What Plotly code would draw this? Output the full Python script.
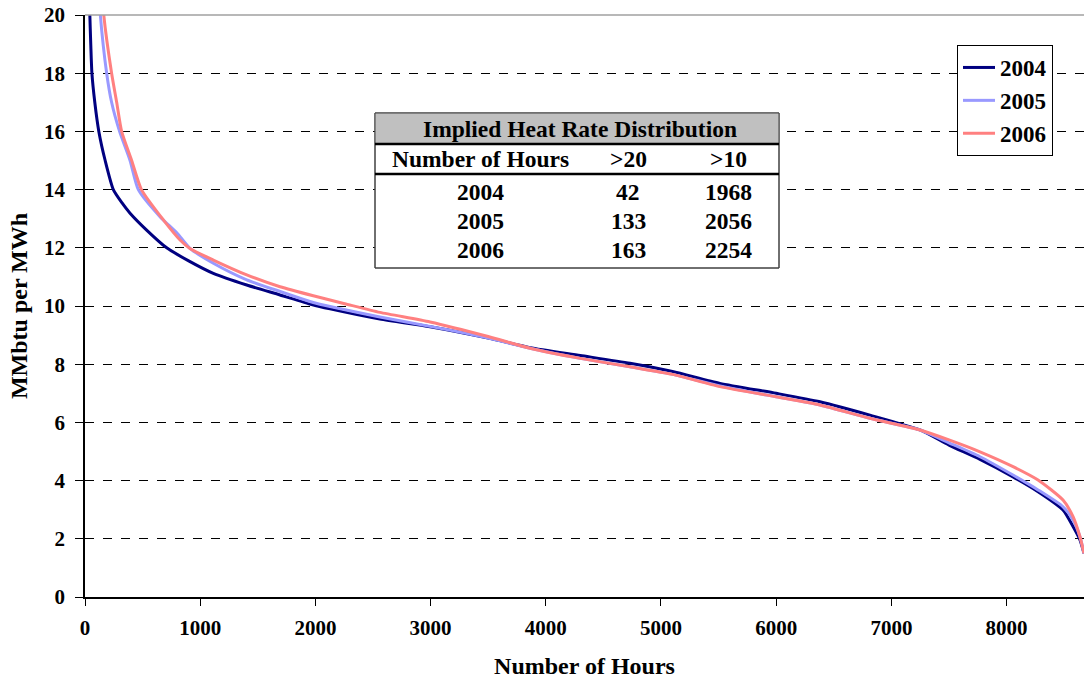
import plotly.graph_objects as go

# ---- data ----
hours_2004 = [0, 20, 42, 50, 60, 85, 120, 175, 246, 320, 391, 535, 709, 900, 1114, 1404, 1693, 1968,
              2127, 2560, 2995, 3500, 3863, 4300, 4731, 5100, 5512, 6000, 6380, 6814, 7248, 7500,
              7769, 8056, 8273, 8490, 8577, 8637, 8672]
vals_2004 = [30, 24, 20, 19, 18, 17, 16, 15, 14, 13.55, 13.19, 12.61, 12.0, 11.55, 11.12, 10.72, 10.38, 10.05,
             9.9, 9.55, 9.29, 8.9, 8.57, 8.3, 8.03, 7.75, 7.34, 7.0, 6.71, 6.25, 5.74, 5.22,
             4.73, 4.13, 3.62, 2.99, 2.42, 1.96, 1.5]

hours_2005 = [0, 60, 133, 188, 231, 300, 391, 463, 651, 800, 911, 1114, 1404, 1693, 1982, 2127,
              2560, 2995, 3500, 3863, 4300, 4731, 5100, 5512, 6000, 6380, 6814, 7248, 7500, 7769,
              8056, 8273, 8490, 8577, 8637, 8672]
vals_2005 = [30, 25, 20, 18, 17, 16, 15, 14, 13.07, 12.5, 11.98, 11.47, 10.9, 10.5, 10.12, 9.98,
             9.62, 9.3, 8.9, 8.55, 8.2, 7.91, 7.65, 7.25, 6.88, 6.6, 6.14, 5.74, 5.3, 4.82,
             4.19, 3.68, 3.1, 2.65, 2.07, 1.5]

hours_2006 = [0, 60, 163, 231, 275, 318, 405, 490, 680, 825, 911, 1114, 1404, 1693, 1982, 2254,
              2560, 2995, 3500, 3863, 4300, 4731, 5100, 5512, 6000, 6380, 6814, 7248, 7500, 7769,
              8056, 8273, 8490, 8577, 8637, 8672]
vals_2006 = [30, 26, 20, 18, 17, 16, 15, 14, 12.96, 12.27, 11.98, 11.58, 11.07, 10.66, 10.35, 10.08,
             9.78, 9.45, 8.95, 8.55, 8.2, 7.91, 7.65, 7.23, 6.88, 6.6, 6.14, 5.74, 5.4, 4.99,
             4.48, 4.02, 3.33, 2.76, 2.07, 1.5]

series_names = ["2004", "2005", "2006"]
series_colors = ["#000080", "#9999FF", "#FF8080"]

table_title = "Implied Heat Rate Distribution"
table_header = ["Number of Hours", ">20", ">10"]
table_years = ["2004", "2005", "2006"]
table_gt20 = [42, 133, 163]
table_gt10 = [1968, 2056, 2254]

x_ticks = [0, 1000, 2000, 3000, 4000, 5000, 6000, 7000, 8000]
y_ticks = [0, 2, 4, 6, 8, 10, 12, 14, 16, 18, 20]

# ---- figure ----
W, H = 1084, 679
ML, MR, MT, MB = 85, 0, 15, 82
FONT = "Liberation Serif"

fig = go.Figure()
for i, (hx, vy) in enumerate([(hours_2004, vals_2004), (hours_2005, vals_2005), (hours_2006, vals_2006)]):
    fig.add_trace(go.Scatter(x=hx, y=vy, mode="lines", name=series_names[i],
                             legendgroup=series_names[i],
                             line=dict(color=series_colors[i], width=3, shape="spline", smoothing=0.6),
                             cliponaxis=True))

def px(x):
    return (x - ML) / (W - ML - MR)

def py(y):
    return (H - MB - y) / (H - MT - MB)

shapes = []
annos = []
# top border
shapes.append(dict(type="line", xref="paper", yref="paper", x0=0, x1=1, y0=1, y1=1,
                   line=dict(color="#A0A0A0", width=1.5), layer="above"))
# table
tx0, tx1, ty0, ty1 = 375, 779, 113, 268
shapes.append(dict(type="rect", xref="paper", yref="paper", x0=px(tx0), x1=px(tx1), y0=py(ty1), y1=py(ty0),
                   fillcolor="white", line=dict(color="#404040", width=1), layer="above"))
shapes.append(dict(type="rect", xref="paper", yref="paper", x0=px(tx0), x1=px(tx1), y0=py(143), y1=py(ty0),
                   fillcolor="#C0C0C0", line=dict(width=0), layer="above"))
shapes.append(dict(type="rect", xref="paper", yref="paper", x0=px(tx0), x1=px(tx1), y0=py(ty1), y1=py(ty0),
                   fillcolor="rgba(0,0,0,0)", line=dict(color="#404040", width=1), layer="above"))
for yy in (144, 174):
    shapes.append(dict(type="line", xref="paper", yref="paper", x0=px(tx0), x1=px(tx1), y0=py(yy), y1=py(yy),
                       line=dict(color="black", width=2.5), layer="above"))

tfont = dict(family=FONT, size=23.5, color="black", weight="bold")
annos.append(dict(xref="paper", yref="paper", x=px(580), y=py(129), text=table_title, showarrow=False,
                  font=tfont, xanchor="center", yanchor="middle"))
col_x = [480, 628, 728]
for cx, t in zip(col_x, table_header):
    annos.append(dict(xref="paper", yref="paper", x=px(cx), y=py(159), text=t, showarrow=False,
                      font=tfont, xanchor="center", yanchor="middle"))
row_y = [192, 221, 250]
for ry, yr, a, b in zip(row_y, table_years, table_gt20, table_gt10):
    for cx, t in zip(col_x, [yr, str(a), str(b)]):
        annos.append(dict(xref="paper", yref="paper", x=px(cx), y=py(ry), text=t, showarrow=False,
                          font=tfont, xanchor="center", yanchor="middle"))

fig.update_layout(
    width=W, height=H,
    margin=dict(l=ML, r=MR, t=MT, b=MB),
    paper_bgcolor="white", plot_bgcolor="white",
    font=dict(family=FONT, size=21, color="black", weight="bold"),
    showlegend=True,
    legend=dict(x=px(957), y=py(45), xanchor="left", yanchor="top",
                bgcolor="white", bordercolor="black", borderwidth=1,
                font=dict(family=FONT, size=23, color="black", weight="bold"),
                tracegroupgap=0, itemwidth=32, traceorder="grouped",
                entrywidth=62, entrywidthmode="pixels"),
    shapes=shapes, annotations=annos,
    xaxis=dict(range=[0, 8672], tickvals=x_ticks, ticks="outside", ticklen=7, tickcolor="black",
               showline=True, linecolor="black", linewidth=1.5, showgrid=False, zeroline=False,
               ticklabelstandoff=4,
               title=dict(text="Number of Hours", font=dict(family=FONT, size=24, weight="bold"), standoff=18),
               tickfont=dict(family=FONT, size=21, weight="bold")),
    yaxis=dict(range=[0, 20], tickvals=y_ticks, ticks="outside", ticklen=8, tickcolor="black",
               showline=True, linecolor="black", linewidth=1.5, showgrid=True, gridcolor="black",
               griddash="dash", gridwidth=1, zeroline=False, ticklabelstandoff=6,
               title=dict(text="MMbtu per MWh", font=dict(family=FONT, size=24, weight="bold"), standoff=10),
               tickfont=dict(family=FONT, size=21, weight="bold")),
)

fig.write_html("out.html")
